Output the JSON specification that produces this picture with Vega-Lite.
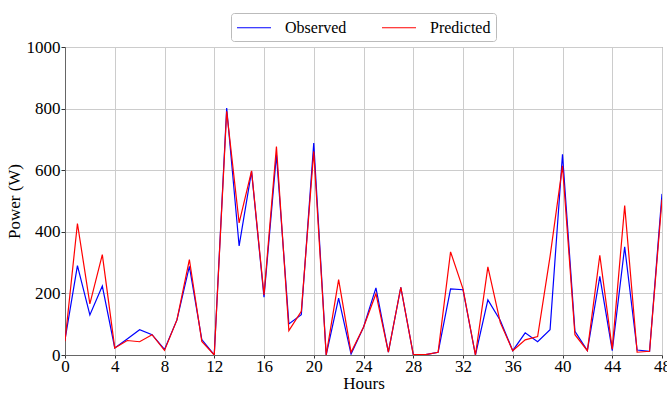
{
  "$schema": "https://vega.github.io/schema/vega-lite/v6.json",
  "width": 597,
  "height": 308,
  "autosize": {"type": "none"},
  "padding": {"left": 65, "top": 47, "right": 5, "bottom": 38},
  "background": "white",
  "config": {
    "font": "Liberation Serif",
    "view": {"stroke": "#777", "strokeWidth": 1},
    "axis": {
      "labelFont": "Liberation Serif",
      "titleFont": "Liberation Serif",
      "labelFontSize": 17,
      "titleFontSize": 17,
      "titleFontWeight": "normal",
      "labelColor": "#000",
      "titleColor": "#000",
      "domainColor": "#666",
      "tickColor": "#333",
      "tickSize": 4,
      "gridColor": "#cccccc",
      "gridWidth": 1
    },
    "legend": {"labelFont": "Liberation Serif", "labelFontSize": 16}
  },
  "data": {
    "values": [
      {"hour": 0, "series": "Observed", "power": 50},
      {"hour": 1, "series": "Observed", "power": 290},
      {"hour": 2, "series": "Observed", "power": 130},
      {"hour": 3, "series": "Observed", "power": 224},
      {"hour": 4, "series": "Observed", "power": 23},
      {"hour": 5, "series": "Observed", "power": 52},
      {"hour": 6, "series": "Observed", "power": 82},
      {"hour": 7, "series": "Observed", "power": 66},
      {"hour": 8, "series": "Observed", "power": 18},
      {"hour": 9, "series": "Observed", "power": 114},
      {"hour": 10, "series": "Observed", "power": 288},
      {"hour": 11, "series": "Observed", "power": 50},
      {"hour": 12, "series": "Observed", "power": 0},
      {"hour": 13, "series": "Observed", "power": 802},
      {"hour": 14, "series": "Observed", "power": 354},
      {"hour": 15, "series": "Observed", "power": 596},
      {"hour": 16, "series": "Observed", "power": 188},
      {"hour": 17, "series": "Observed", "power": 650},
      {"hour": 18, "series": "Observed", "power": 101},
      {"hour": 19, "series": "Observed", "power": 131},
      {"hour": 20, "series": "Observed", "power": 688},
      {"hour": 21, "series": "Observed", "power": 0},
      {"hour": 22, "series": "Observed", "power": 185},
      {"hour": 23, "series": "Observed", "power": 3},
      {"hour": 24, "series": "Observed", "power": 90},
      {"hour": 25, "series": "Observed", "power": 218},
      {"hour": 26, "series": "Observed", "power": 9},
      {"hour": 27, "series": "Observed", "power": 220},
      {"hour": 28, "series": "Observed", "power": 2},
      {"hour": 29, "series": "Observed", "power": 1},
      {"hour": 30, "series": "Observed", "power": 9},
      {"hour": 31, "series": "Observed", "power": 215},
      {"hour": 32, "series": "Observed", "power": 212},
      {"hour": 33, "series": "Observed", "power": 0},
      {"hour": 34, "series": "Observed", "power": 179},
      {"hour": 35, "series": "Observed", "power": 112},
      {"hour": 36, "series": "Observed", "power": 14},
      {"hour": 37, "series": "Observed", "power": 72},
      {"hour": 38, "series": "Observed", "power": 43},
      {"hour": 39, "series": "Observed", "power": 82},
      {"hour": 40, "series": "Observed", "power": 652},
      {"hour": 41, "series": "Observed", "power": 77},
      {"hour": 42, "series": "Observed", "power": 14},
      {"hour": 43, "series": "Observed", "power": 255},
      {"hour": 44, "series": "Observed", "power": 14},
      {"hour": 45, "series": "Observed", "power": 351},
      {"hour": 46, "series": "Observed", "power": 16},
      {"hour": 47, "series": "Observed", "power": 12},
      {"hour": 48, "series": "Observed", "power": 523},
      {"hour": 0, "series": "Predicted", "power": 45},
      {"hour": 1, "series": "Predicted", "power": 427},
      {"hour": 2, "series": "Predicted", "power": 166},
      {"hour": 3, "series": "Predicted", "power": 326},
      {"hour": 4, "series": "Predicted", "power": 23},
      {"hour": 5, "series": "Predicted", "power": 47},
      {"hour": 6, "series": "Predicted", "power": 43},
      {"hour": 7, "series": "Predicted", "power": 66},
      {"hour": 8, "series": "Predicted", "power": 15},
      {"hour": 9, "series": "Predicted", "power": 114},
      {"hour": 10, "series": "Predicted", "power": 310},
      {"hour": 11, "series": "Predicted", "power": 44},
      {"hour": 12, "series": "Predicted", "power": 0},
      {"hour": 13, "series": "Predicted", "power": 791},
      {"hour": 14, "series": "Predicted", "power": 429},
      {"hour": 15, "series": "Predicted", "power": 598},
      {"hour": 16, "series": "Predicted", "power": 195},
      {"hour": 17, "series": "Predicted", "power": 677},
      {"hour": 18, "series": "Predicted", "power": 79},
      {"hour": 19, "series": "Predicted", "power": 142},
      {"hour": 20, "series": "Predicted", "power": 661},
      {"hour": 21, "series": "Predicted", "power": 0},
      {"hour": 22, "series": "Predicted", "power": 245},
      {"hour": 23, "series": "Predicted", "power": 9},
      {"hour": 24, "series": "Predicted", "power": 90},
      {"hour": 25, "series": "Predicted", "power": 199},
      {"hour": 26, "series": "Predicted", "power": 9},
      {"hour": 27, "series": "Predicted", "power": 220},
      {"hour": 28, "series": "Predicted", "power": 2},
      {"hour": 29, "series": "Predicted", "power": 1},
      {"hour": 30, "series": "Predicted", "power": 9},
      {"hour": 31, "series": "Predicted", "power": 335},
      {"hour": 32, "series": "Predicted", "power": 215},
      {"hour": 33, "series": "Predicted", "power": 0},
      {"hour": 34, "series": "Predicted", "power": 286},
      {"hour": 35, "series": "Predicted", "power": 105},
      {"hour": 36, "series": "Predicted", "power": 14},
      {"hour": 37, "series": "Predicted", "power": 49},
      {"hour": 38, "series": "Predicted", "power": 60},
      {"hour": 39, "series": "Predicted", "power": 320},
      {"hour": 40, "series": "Predicted", "power": 614},
      {"hour": 41, "series": "Predicted", "power": 66},
      {"hour": 42, "series": "Predicted", "power": 14},
      {"hour": 43, "series": "Predicted", "power": 324},
      {"hour": 44, "series": "Predicted", "power": 19},
      {"hour": 45, "series": "Predicted", "power": 485},
      {"hour": 46, "series": "Predicted", "power": 9},
      {"hour": 47, "series": "Predicted", "power": 12},
      {"hour": 48, "series": "Predicted", "power": 505}
    ]
  },
  "mark": {"type": "line", "strokeWidth": 1.2, "clip": true},
  "encoding": {
    "x": {
      "field": "hour", "type": "quantitative", "title": "Hours",
      "scale": {"domain": [0, 48], "nice": false, "zero": false},
      "axis": {"values": [0,4,8,12,16,20,24,28,32,36,40,44,48], "format": "d", "labelFlush": false, "titlePadding": 1, "labelPadding": 0, "tickSize": 3}
    },
    "y": {
      "field": "power", "type": "quantitative", "title": "Power (W)",
      "scale": {"domain": [0, 1000], "nice": false},
      "axis": {"values": [0,200,400,600,800,1000], "format": "d", "labelPadding": 1, "titlePadding": 3}
    },
    "color": {
      "field": "series", "type": "nominal",
      "scale": {"domain": ["Observed", "Predicted"], "range": ["#0000ff", "#ff0000"]},
      "legend": {
        "title": null,
        "orient": "none",
        "direction": "horizontal",
        "legendX": 166,
        "legendY": -34,
        "symbolType": "M-1,0L3,0",
        "symbolSize": 289,
        "symbolStrokeWidth": 1.2,
        "labelFontSize": 16,
        "labelOffset": 30,
        "columnPadding": 32,
        "padding": 5,
        "strokeColor": "#bbbbbb",
        "fillColor": "white",
        "cornerRadius": 3
      }
    }
  }
}
